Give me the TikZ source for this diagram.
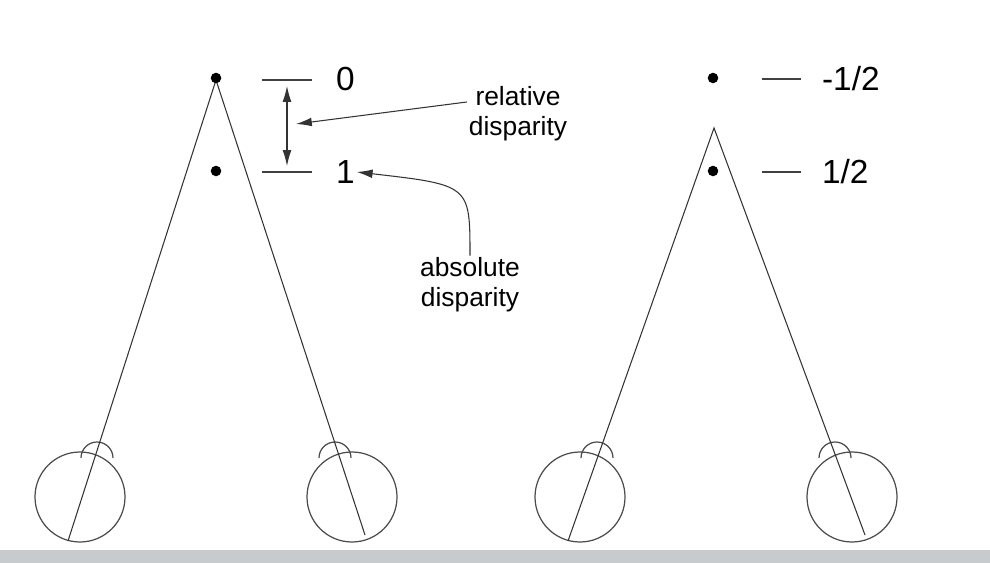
\documentclass[tikz,border=0pt]{standalone}
\usepackage{fontspec}
\setmainfont{Liberation Sans}
\usetikzlibrary{arrows.meta}
\definecolor{band}{HTML}{C8CBCE}
\tikzset{
	eye/.style={draw=black!70, line width=0.7pt},
	ray/.style={black!80, line width=0.6pt},
	tick/.style={black!75, line width=0.9pt},
	lbl/.style={font=\fontsize{15}{17}\selectfont, align=center, inner sep=1pt},
	num/.style={font=\fontsize{19}{21}\selectfont, anchor=west, inner sep=1pt},
	pointer/.style={black!80, line width=0.6pt, -{Latex[length=9pt,width=5pt]}},
	spot/.style={fill=black, circle, inner sep=0pt, minimum size=6pt},
}
\begin{document}
\begin{tikzpicture}[x=0.02cm, y=-0.02cm]
		\useasboundingbox (0,0) rectangle (990,563);
		\fill [band] (0,550) rectangle (990,563);

		% left configuration
		\coordinate (apexL) at (216,80);
		\coordinate (eyeLL) at (80,497);
		\coordinate (eyeLR) at (352,497);
		\draw [eye] (eyeLL) circle [radius=45];
		\draw [eye] (eyeLR) circle [radius=45];
		\draw [eye] (81,458) arc [start angle=180, end angle=360, radius=16];
		\draw [eye] (319,458) arc [start angle=180, end angle=360, radius=16];
		\draw [ray] (68,541)--(apexL)--(365,535);

		\node [spot] (farL) at (216,78) {};
		\node [spot] (nearL) at (216,171) {};
		\draw [tick] (262,80)--(312,80);
		\draw [tick] (262,172)--(312,172);
		\node [num] (zero) at (334,79) {0};
		\node [num] (one) at (334,172) {1};
		\draw [black!80, line width=0.6pt, {Latex[length=9pt,width=5pt]}-{Latex[length=9pt,width=5pt]}] (287,86)--(287,166);

		\node [lbl] (rel) at (518,114) {relative\\disparity};
		\draw [pointer] (rel.west) ++(0,-12) -- (296,124);
		\node [lbl] (abs) at (470,285) {absolute\\disparity};
		\draw [pointer] (abs.north) .. controls (470,185) .. (one.east);

		% right configuration
		\coordinate (apexR) at (714,128);
		\coordinate (eyeRL) at (580,497);
		\coordinate (eyeRR) at (852,497);
		\draw [eye] (eyeRL) circle [radius=45];
		\draw [eye] (eyeRR) circle [radius=45];
		\draw [eye] (581,458) arc [start angle=180, end angle=360, radius=16];
		\draw [eye] (819,458) arc [start angle=180, end angle=360, radius=16];
		\draw [ray] (568,541)--(apexR)--(865,535);

		\node [spot] (farR) at (713,78) {};
		\node [spot] (nearR) at (713,171) {};
		\draw [tick] (762,79)--(801,79);
		\draw [tick] (762,172)--(801,172);
		\node [num] (mhalf) at (820,79) {-1/2};
		\node [num] (half) at (820,172) {1/2};
	\end{tikzpicture}
\end{document}
